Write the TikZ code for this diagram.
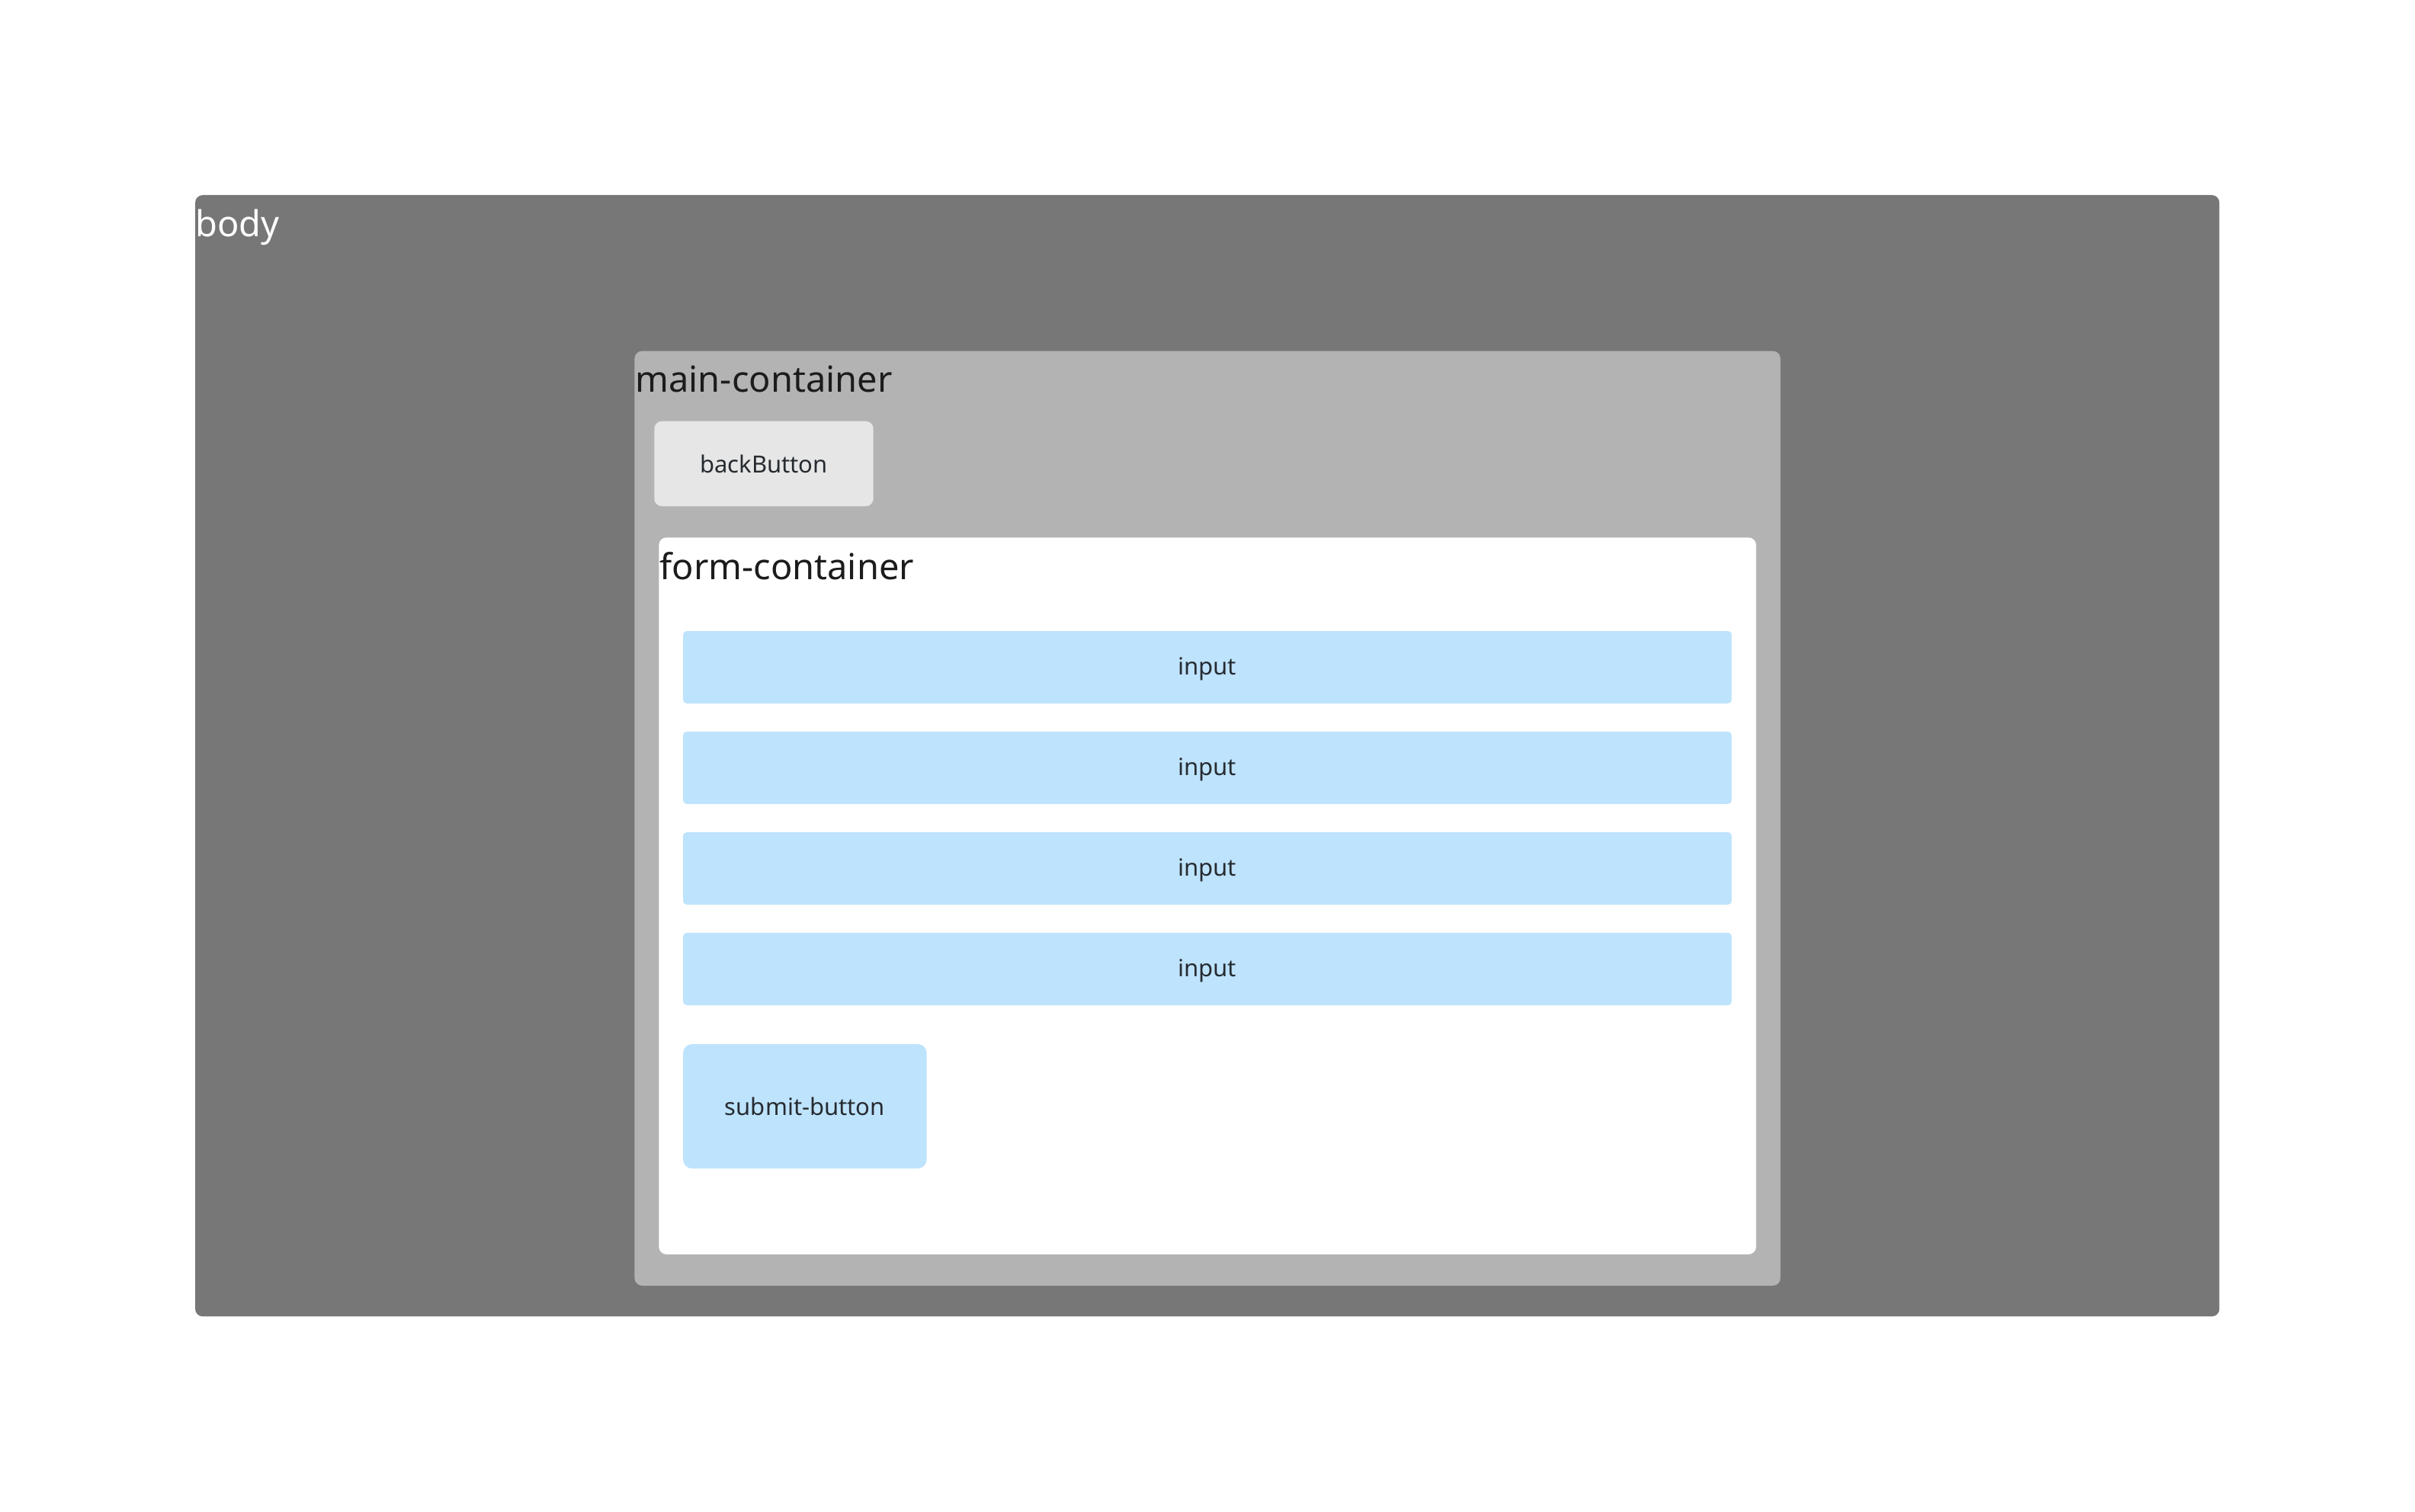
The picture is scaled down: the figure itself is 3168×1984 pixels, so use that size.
\documentclass[tikz,border=0pt]{standalone}
\usepackage{fontspec}
\setmainfont{Noto Sans}
\definecolor{bodygray}{HTML}{777777}
\definecolor{maingray}{HTML}{B3B3B3}
\definecolor{btngray}{HTML}{E6E6E6}
\definecolor{inblue}{HTML}{BEE3FD}
\definecolor{darktxt}{HTML}{1C1C1C}
\definecolor{boxtxt}{HTML}{262B30}
\begin{document}
\begin{tikzpicture}[x=0.5pt,y=-0.5pt,
  box/.style={anchor=north west,inner sep=0pt,outer sep=0pt,draw=none,rectangle},
  biglabel/.style={anchor=base west,inner sep=0pt,font=\fontsize{23.5}{28}\selectfont},
  smalllabel/.style={inner sep=0pt,text=boxtxt,font=\fontsize{15.5}{19}\selectfont},
  inputbox/.style={box,fill=inblue,rounded corners=2.5pt,minimum width=687.85pt,minimum height=47.5pt},
  inputlabel/.style={smalllabel,yshift=-1.2pt}
]
\useasboundingbox (0,0) rectangle (3168,1984);
\fill[white] (0,0) rectangle (3168,1984);
% body
\node[box,fill=bodygray,rounded corners=5pt,minimum width=1327.7pt,minimum height=735.7pt] (body) at (256,256) {};
\node[biglabel,text=white] (bodylbl) at (256,310.7) {body};
% main container
\node[box,fill=maingray,rounded corners=5pt,minimum width=751.6pt,minimum height=613.2pt] (main) at (832.4,460.6) {};
\node[biglabel,text=darktxt] (mainlbl) at (833,515) {main-container};
% back button
\node[box,fill=btngray,rounded corners=5pt,minimum width=143.7pt,minimum height=55.8pt] (back) at (858.3,552.7) {};
\node[smalllabel] (backlbl) at (back.center) {backButton};
% form container
\node[box,fill=white,rounded corners=5pt,minimum width=719.7pt,minimum height=470.3pt] (form) at (864.3,705.3) {};
\node[biglabel,text=darktxt] (formlbl) at (865,760.7) {form-container};
% inputs
\node[inputbox] (in1) at (896,828) {};
\node[inputbox] (in2) at (896,960) {};
\node[inputbox] (in3) at (896,1092) {};
\node[inputbox] (in4) at (896,1224) {};
\node[inputlabel] (in1lbl) at (in1.center) {input};
\node[inputlabel] (in2lbl) at (in2.center) {input};
\node[inputlabel] (in3lbl) at (in3.center) {input};
\node[inputlabel] (in4lbl) at (in4.center) {input};
% submit
\node[box,fill=inblue,rounded corners=6pt,minimum width=159.85pt,minimum height=81.65pt] (submit) at (896,1370) {};
\node[smalllabel] (submitlbl) at (submit.center) {submit-button};
\end{tikzpicture}
\end{document}
